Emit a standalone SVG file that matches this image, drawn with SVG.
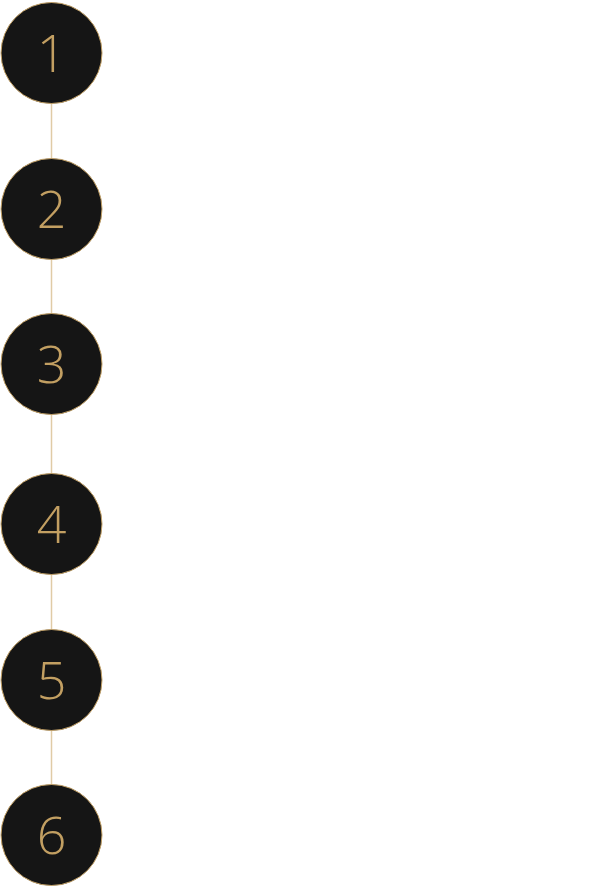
<svg xmlns="http://www.w3.org/2000/svg" width="590" height="890" viewBox="0 0 590 890">
<style>
.n circle{fill:#151515;stroke:#c4a268;stroke-width:1}
.n text{fill:#c29f62;font-family:"Open Sans","Noto Sans",sans-serif;font-weight:300;font-size:52px;text-anchor:middle;letter-spacing:0}
.c line{stroke:#e0cba6;stroke-width:1.5}
</style>
<rect width="590" height="890" fill="#fff"/>
<g class="c">
<line x1="51.5" y1="104" x2="51.5" y2="158"/>
<line x1="51.5" y1="260" x2="51.5" y2="313"/>
<line x1="51.5" y1="415" x2="51.5" y2="473"/>
<line x1="51.5" y1="575" x2="51.5" y2="629"/>
<line x1="51.5" y1="731" x2="51.5" y2="784"/>
</g>
<g id="n1" class="n"><circle cx="51.5" cy="53" r="50.5"/><text x="51.5" y="71.5">1</text></g>
<g id="n2" class="n"><circle cx="51.5" cy="209" r="50.5"/><text x="51.5" y="227.5">2</text></g>
<g id="n3" class="n"><circle cx="51.5" cy="364" r="50.5"/><text x="51.5" y="382.5">3</text></g>
<g id="n4" class="n"><circle cx="51.5" cy="524" r="50.5"/><text x="51.5" y="542.5">4</text></g>
<g id="n5" class="n"><circle cx="51.5" cy="680" r="50.5"/><text x="51.5" y="698.5">5</text></g>
<g id="n6" class="n"><circle cx="51.5" cy="835" r="50.5"/><text x="51.5" y="853.5">6</text></g>
</svg>
